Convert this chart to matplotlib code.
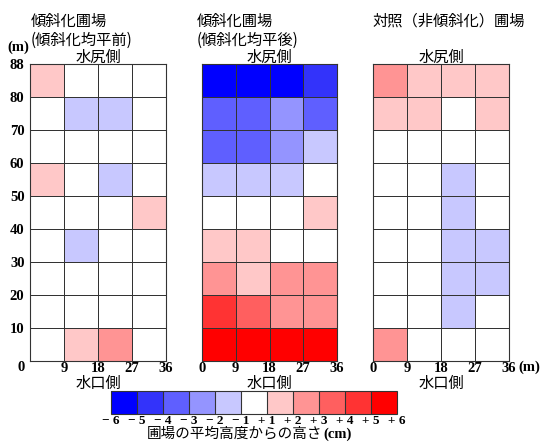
import matplotlib
matplotlib.use("Agg")
import matplotlib.pyplot as plt
from matplotlib.colors import ListedColormap, BoundaryNorm
from matplotlib.cm import ScalarMappable

# Height relative to plot mean (cm); rows listed from the inlet side (0 m) upward
x_edges = [0, 9, 18, 27, 36]
y_tick_labels = ["0", "10", "20", "30", "40", "50", "60", "70", "80", "88"]

before = [
    [0, 1.5, 2.5, 0],
    [0, 0, 0, 0],
    [0, 0, 0, 0],
    [0, -1.5, 0, 0],
    [0, 0, 0, 1.5],
    [1.5, 0, -1.5, 0],
    [0, 0, 0, 0],
    [0, -1.5, -1.5, 0],
    [1.5, 0, 0, 0],
]

after = [
    [5.5, 5.5, 5.5, 5.5],
    [4.5, 3.5, 2.5, 2.5],
    [2.5, 1.5, 2.5, 2.5],
    [1.5, 1.5, 0, 0],
    [0, 0, 0, 1.5],
    [-1.5, -1.5, -1.5, 0],
    [-3.5, -3.5, -2.5, -1.5],
    [-3.5, -3.5, -2.5, -3.5],
    [-5.5, -5.5, -5.5, -4.5],
]

control = [
    [2.5, 0, 0, 0],
    [0, 0, -1.5, 0],
    [0, 0, -1.5, -1.5],
    [0, 0, -1.5, -1.5],
    [0, 0, -1.5, 0],
    [0, 0, -1.5, 0],
    [0, 0, 0, 0],
    [1.5, 1.5, 0, 1.5],
    [2.5, 1.5, 1.5, 1.5],
]

bounds = [-6, -5, -4, -3, -2, -1, 1, 2, 3, 4, 5, 6]
bound_labels = ["− 6", "− 5", "− 4", "− 3", "− 2", "− 1", "+ 1", "+ 2", "+ 3", "+ 4", "+ 5", "+ 6"]
bin_colors = ["#0000ff", "#3333fa", "#5f5fff", "#9494ff", "#c8c8ff", "#ffffff",
              "#ffc8c8", "#ff9494", "#ff5f5f", "#ff3333", "#ff0000"]

titles = ["傾斜化圃場\n(傾斜化均平前)", "傾斜化圃場\n(傾斜化均平後)", "対照（非傾斜化）圃場"]

cmap = ListedColormap(bin_colors)
norm = BoundaryNorm(bounds, cmap.N)

jp = ["Noto Sans CJK JP", "DejaVu Sans"]
num_font = dict(family="Liberation Serif", weight="bold", size=10.5)
line_col = "#333333"

W, H = 540, 442
fig = plt.figure(figsize=(W / 100, H / 100), dpi=100)


def px_axes(x0, y0, x1, y1):
    return fig.add_axes([x0 / W, 1 - y1 / H, (x1 - x0) / W, (y1 - y0) / H])


panels = [(30, 64, 166, 361), (202, 64, 337, 361), (373, 64, 509, 361)]
datasets = [before, after, control]
title_pos = [(31, 13), (197, 13), (372, 13)]

for i, (box, data, title) in enumerate(zip(panels, datasets, titles)):
    ax = px_axes(*box)
    ax.pcolormesh(x_edges, range(len(data) + 1), data, cmap=cmap, norm=norm,
                  edgecolors=line_col, linewidth=0.7)
    ax.set_xlim(0, 36)
    ax.set_ylim(0, len(data))
    for sp in ax.spines.values():
        sp.set_color(line_col)
        sp.set_linewidth(0.8)
    ax.tick_params(length=0, pad=1)
    if i == 0:
        ax.set_xticks(x_edges[1:])
        ax.set_xticklabels([str(v) for v in x_edges[1:]], fontdict=num_font)
        ax.set_yticks(range(len(y_tick_labels)))
        ylabels = ax.set_yticklabels(y_tick_labels, fontdict=num_font)
        ylabels[0].set_va("top")
        ax.tick_params(axis="y", pad=4)
        fig.text(7 / W, 1 - 47 / H, "(m)", ha="left", va="center", **num_font)
    else:
        ax.set_xticks(x_edges)
        ax.set_xticklabels([str(v) for v in x_edges], fontdict=num_font)
        ax.set_yticks([])
    if i == 2:
        fig.text((box[2] + 9) / W, 1 - 367 / H, "(m)", ha="left", va="center", **num_font)

    cx = (box[0] + box[2]) / 2 / W
    fig.text(cx, 1 - 57 / H, "水尻側", family=jp, fontsize=11, ha="center", va="center")
    fig.text(cx, 1 - 383 / H, "水口側", family=jp, fontsize=11, ha="center", va="center")
    tx, ty = title_pos[i]
    fig.text(tx / W, 1 - ty / H, title, family=jp, fontsize=11, ha="left", va="top",
             linespacing=1.15)

# Colour key
cax = px_axes(111, 391, 397, 414)
cb = fig.colorbar(ScalarMappable(norm=norm, cmap=cmap), cax=cax, orientation="horizontal",
                  spacing="uniform", ticks=bounds, drawedges=True)
cb.set_ticklabels(bound_labels)
for lab in cb.ax.get_xticklabels():
    lab.set_fontfamily("Liberation Serif")
    lab.set_fontweight("bold")
    lab.set_fontsize(9.5)
cb.ax.tick_params(length=0, pad=1)
cb.outline.set_edgecolor(line_col)
cb.outline.set_linewidth(0.8)
cb.dividers.set_color(line_col)
cb.dividers.set_linewidth(0.8)

fig.text(322 / W, 1 - 434 / H, "圃場の平均高度からの高さ", family=jp, fontsize=10.5,
         ha="right", va="center")
fig.text(323 / W, 1 - 434 / H, "(cm)", ha="left", va="center", **num_font)

fig.savefig("out.png", dpi=100, facecolor="white")
